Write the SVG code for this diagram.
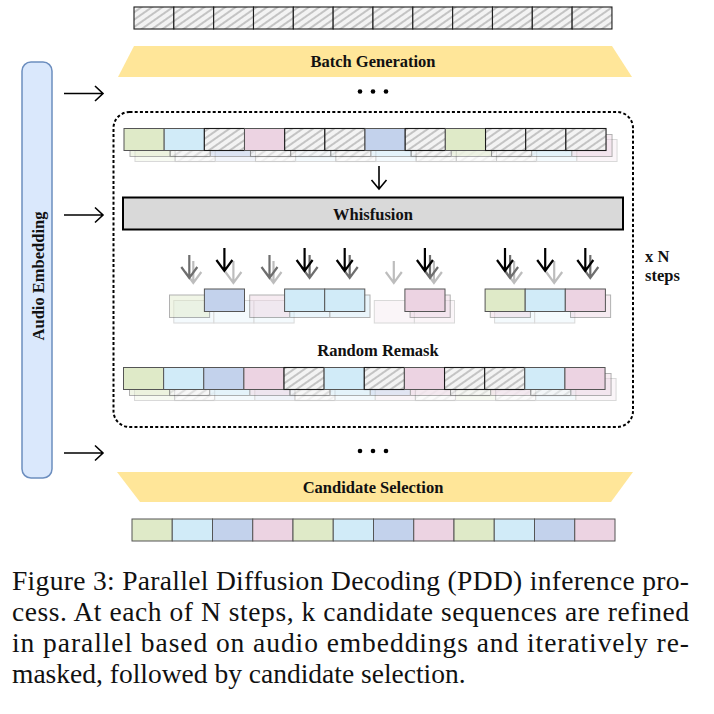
<svg xmlns="http://www.w3.org/2000/svg" width="714" height="714" viewBox="0 0 714 714">
<defs>
<pattern id="hatch" patternUnits="userSpaceOnUse" width="6" height="6" patternTransform="rotate(-35)">
<rect width="6" height="6" fill="#f3f3f3"/>
<line x1="0" y1="3" x2="6" y2="3" stroke="#7a7a7a" stroke-width="0.8"/>
</pattern>
</defs>
<style>
.c{stroke:#555;stroke-width:1}
.g{fill:#dfeac8}
.lb{fill:#d1ebf8}
.b{fill:#c3d2ec}
.p{fill:#ecd3e2}
.h{fill:url(#hatch);stroke:#1a1a1a;stroke-width:1.1}
.l1{opacity:0.45}
.l2{opacity:0.22}
.lbl{font-family:"Liberation Serif","Times New Roman",serif;font-weight:bold;font-size:16.5px;fill:#111}
.cap{font-family:"Liberation Serif","Times New Roman",serif;font-size:27.5px;fill:#111}
.arr{fill:none;stroke-width:2.2}
.thin{fill:none;stroke:#000;stroke-width:1.6}
</style>
<rect width="714" height="714" fill="#fff"/>

<!-- Top masked sequence -->
<g id="top-sequence">
<rect class="h" x="134" y="7" width="39.83" height="22"/>
<rect class="h" x="173.83" y="7" width="39.83" height="22"/>
<rect class="h" x="213.66" y="7" width="39.83" height="22"/>
<rect class="h" x="253.49" y="7" width="39.83" height="22"/>
<rect class="h" x="293.32" y="7" width="39.83" height="22"/>
<rect class="h" x="333.15" y="7" width="39.83" height="22"/>
<rect class="h" x="372.98" y="7" width="39.83" height="22"/>
<rect class="h" x="412.81" y="7" width="39.83" height="22"/>
<rect class="h" x="452.64" y="7" width="39.83" height="22"/>
<rect class="h" x="492.47" y="7" width="39.83" height="22"/>
<rect class="h" x="532.3" y="7" width="39.83" height="22"/>
<rect class="h" x="572.13" y="7" width="39.83" height="22"/>
</g>

<g id="batch-generation">
<polygon points="134,46 612,46 632,77 118,77" fill="#ffe699"/>
<text class="lbl" x="373" y="67" text-anchor="middle">Batch Generation</text>
</g>

<g id="dots-top" fill="#000">
<circle cx="360" cy="91.5" r="2.3"/>
<circle cx="373" cy="91.5" r="2.3"/>
<circle cx="386" cy="91.5" r="2.3"/>
</g>

<g id="audio-embedding">
<rect x="22" y="62" width="30" height="416" rx="9" fill="#dae8fc" stroke="#6c8ebf" stroke-width="1.5"/>
<text class="lbl" transform="translate(43.5,276) rotate(-90)" text-anchor="middle">Audio Embedding</text>
</g>

<g id="step-loop">
<rect x="113.5" y="112" width="519.5" height="315" rx="16" fill="none" stroke="#000" stroke-width="2" stroke-dasharray="3 2.2"/>
</g>

<!-- Row 1: k candidate sequences -->
<g id="candidates-in">
<g class="l2" transform="translate(11,11)">
<rect class="c g" x="124" y="128.5" width="40.17" height="22"/>
<rect class="h" x="164.17" y="128.5" width="40.17" height="22"/>
<rect class="c b" x="204.34" y="128.5" width="40.17" height="22"/>
<rect class="h" x="244.51" y="128.5" width="40.17" height="22"/>
<rect class="c lb" x="284.68" y="128.5" width="40.17" height="22"/>
<rect class="h" x="324.85" y="128.5" width="40.17" height="22"/>
<rect class="c lb" x="365.02" y="128.5" width="40.17" height="22"/>
<rect class="h" x="405.19" y="128.5" width="40.17" height="22"/>
<rect class="h" x="445.36" y="128.5" width="40.17" height="22"/>
<rect class="h" x="485.53" y="128.5" width="40.17" height="22"/>
<rect class="c lb" x="525.7" y="128.5" width="40.17" height="22"/>
<rect class="c p" x="565.87" y="128.5" width="40.17" height="22"/>
</g>
<g class="l1" transform="translate(6,6)">
<rect class="c g" x="124" y="128.5" width="40.17" height="22"/>
<rect class="h" x="164.17" y="128.5" width="40.17" height="22"/>
<rect class="c b" x="204.34" y="128.5" width="40.17" height="22"/>
<rect class="h" x="244.51" y="128.5" width="40.17" height="22"/>
<rect class="h" x="284.68" y="128.5" width="40.17" height="22"/>
<rect class="h" x="324.85" y="128.5" width="40.17" height="22"/>
<rect class="c lb" x="365.02" y="128.5" width="40.17" height="22"/>
<rect class="h" x="405.19" y="128.5" width="40.17" height="22"/>
<rect class="c g" x="445.36" y="128.5" width="40.17" height="22"/>
<rect class="h" x="485.53" y="128.5" width="40.17" height="22"/>
<rect class="c lb" x="525.7" y="128.5" width="40.17" height="22"/>
<rect class="c p" x="565.87" y="128.5" width="40.17" height="22"/>
</g>
<g>
<rect class="c g" x="124" y="128.5" width="40.17" height="22"/>
<rect class="c lb" x="164.17" y="128.5" width="40.17" height="22"/>
<rect class="h" x="204.34" y="128.5" width="40.17" height="22"/>
<rect class="c p" x="244.51" y="128.5" width="40.17" height="22"/>
<rect class="h" x="284.68" y="128.5" width="40.17" height="22"/>
<rect class="h" x="324.85" y="128.5" width="40.17" height="22"/>
<rect class="c b" x="365.02" y="128.5" width="40.17" height="22"/>
<rect class="h" x="405.19" y="128.5" width="40.17" height="22"/>
<rect class="c g" x="445.36" y="128.5" width="40.17" height="22"/>
<rect class="h" x="485.53" y="128.5" width="40.17" height="22"/>
<rect class="h" x="525.7" y="128.5" width="40.17" height="22"/>
<rect class="h" x="565.87" y="128.5" width="40.17" height="22"/>
</g>
</g>

<g id="whisfusion">
<rect x="123" y="197.5" width="500" height="32" fill="#d9d9d9" stroke="#000" stroke-width="2"/>
<text class="lbl" x="373" y="219.5" text-anchor="middle">Whisfusion</text>
</g>

<!-- Partially unmasked predictions -->
<g id="predictions">
<g class="l2">
<rect class="c lb" x="173.8" y="300.5" width="40.1" height="22.5"/>
<rect class="c lb" x="213.9" y="300.5" width="40.1" height="22.5"/>
<rect class="c lb" x="254" y="300.5" width="40.1" height="22.5"/>
<rect class="c p" x="374.3" y="300.5" width="40.1" height="22.5"/>
<rect class="c p" x="414.4" y="300.5" width="40.1" height="22.5"/>
<rect class="c lb" x="494.6" y="300.5" width="40.1" height="22.5"/>
<rect class="c lb" x="534.7" y="300.5" width="40.1" height="22.5"/>
</g>
<g class="l1">
<rect class="c g" x="169.5" y="295" width="40.1" height="22.5"/>
<rect class="c p" x="249.7" y="295" width="40.1" height="22.5"/>
<rect class="c lb" x="289.8" y="295" width="40.1" height="22.5"/>
<rect class="c lb" x="329.9" y="295" width="40.1" height="22.5"/>
<rect class="c p" x="410.1" y="295" width="40.1" height="22.5"/>
<rect class="c p" x="490.3" y="295" width="40.1" height="22.5"/>
<rect class="c p" x="570.5" y="295" width="40.1" height="22.5"/>
</g>
<g>
<rect class="c b" x="204.4" y="289" width="40.1" height="22.5"/>
<rect class="c lb" x="284.6" y="289" width="40.1" height="22.5"/>
<rect class="c lb" x="324.7" y="289" width="40.1" height="22.5"/>
<rect class="c p" x="404.9" y="289" width="40.1" height="22.5"/>
<rect class="c g" x="485.1" y="289" width="40.1" height="22.5"/>
<rect class="c lb" x="525.2" y="289" width="40.1" height="22.5"/>
<rect class="c p" x="565.3" y="289" width="40.1" height="22.5"/>
</g>
</g>

<g id="x-n-steps">
<text class="lbl" x="645" y="262">x N</text>
<text class="lbl" x="645" y="281">steps</text>
</g>

<g id="random-remask">
<text class="lbl" x="378" y="355.5" text-anchor="middle">Random Remask</text>
</g>

<!-- Row 2: remasked sequences -->
<g id="candidates-remasked">
<g class="l2" transform="translate(11,11)">
<rect class="c g" x="123.5" y="367.5" width="40.13" height="22"/>
<rect class="h" x="163.63" y="367.5" width="40.13" height="22"/>
<rect class="c lb" x="203.76" y="367.5" width="40.13" height="22"/>
<rect class="c b" x="243.89" y="367.5" width="40.13" height="22"/>
<rect class="h" x="284.02" y="367.5" width="40.13" height="22"/>
<rect class="c lb" x="324.15" y="367.5" width="40.13" height="22"/>
<rect class="c p" x="364.28" y="367.5" width="40.13" height="22"/>
<rect class="h" x="404.41" y="367.5" width="40.13" height="22"/>
<rect class="c g" x="444.54" y="367.5" width="40.13" height="22"/>
<rect class="h" x="484.67" y="367.5" width="40.13" height="22"/>
<rect class="c lb" x="524.8" y="367.5" width="40.13" height="22"/>
<rect class="c p" x="564.93" y="367.5" width="40.13" height="22"/>
</g>
<g class="l1" transform="translate(6,6)">
<rect class="c g" x="123.5" y="367.5" width="40.13" height="22"/>
<rect class="h" x="163.63" y="367.5" width="40.13" height="22"/>
<rect class="c lb" x="203.76" y="367.5" width="40.13" height="22"/>
<rect class="c p" x="243.89" y="367.5" width="40.13" height="22"/>
<rect class="h" x="284.02" y="367.5" width="40.13" height="22"/>
<rect class="c lb" x="324.15" y="367.5" width="40.13" height="22"/>
<rect class="c b" x="364.28" y="367.5" width="40.13" height="22"/>
<rect class="c p" x="404.41" y="367.5" width="40.13" height="22"/>
<rect class="h" x="444.54" y="367.5" width="40.13" height="22"/>
<rect class="c p" x="484.67" y="367.5" width="40.13" height="22"/>
<rect class="h" x="524.8" y="367.5" width="40.13" height="22"/>
<rect class="c p" x="564.93" y="367.5" width="40.13" height="22"/>
</g>
<g>
<rect class="c g" x="123.5" y="367.5" width="40.13" height="22"/>
<rect class="c lb" x="163.63" y="367.5" width="40.13" height="22"/>
<rect class="c b" x="203.76" y="367.5" width="40.13" height="22"/>
<rect class="c p" x="243.89" y="367.5" width="40.13" height="22"/>
<rect class="h" x="284.02" y="367.5" width="40.13" height="22"/>
<rect class="c lb" x="324.15" y="367.5" width="40.13" height="22"/>
<rect class="h" x="364.28" y="367.5" width="40.13" height="22"/>
<rect class="c p" x="404.41" y="367.5" width="40.13" height="22"/>
<rect class="h" x="444.54" y="367.5" width="40.13" height="22"/>
<rect class="h" x="484.67" y="367.5" width="40.13" height="22"/>
<rect class="c lb" x="524.8" y="367.5" width="40.13" height="22"/>
<rect class="c p" x="564.93" y="367.5" width="40.13" height="22"/>
</g>
</g>

<g id="dots-bottom" fill="#000">
<circle cx="360" cy="451" r="2.3"/>
<circle cx="373" cy="451" r="2.3"/>
<circle cx="386" cy="451" r="2.3"/>
</g>

<g id="candidate-selection">
<polygon points="117,472 633,472 611,502 140,502" fill="#ffe699"/>
<text class="lbl" x="373" y="493" text-anchor="middle">Candidate Selection</text>
</g>

<g id="output-sequence">
<rect class="c g" x="132" y="519" width="40.25" height="22"/>
<rect class="c lb" x="172.25" y="519" width="40.25" height="22"/>
<rect class="c b" x="212.5" y="519" width="40.25" height="22"/>
<rect class="c p" x="252.75" y="519" width="40.25" height="22"/>
<rect class="c g" x="293" y="519" width="40.25" height="22"/>
<rect class="c lb" x="333.25" y="519" width="40.25" height="22"/>
<rect class="c b" x="373.5" y="519" width="40.25" height="22"/>
<rect class="c p" x="413.75" y="519" width="40.25" height="22"/>
<rect class="c g" x="454" y="519" width="40.25" height="22"/>
<rect class="c lb" x="494.25" y="519" width="40.25" height="22"/>
<rect class="c b" x="534.5" y="519" width="40.25" height="22"/>
<rect class="c p" x="574.75" y="519" width="40.25" height="22"/>
</g>

<g id="connectors">
<path class="thin" d="M64 93.5H103M95 86L103 93.5L95 101"/>
<path class="thin" d="M64 215H103M95 207.5L103 215L95 222.5"/>
<path class="thin" d="M64 453H103M95 445.5L103 453L95 460.5"/>
<path class="thin" d="M379 166V189M371.5 180L379 189L386.5 180"/>
<g class="arr" stroke="#bdbdbd">
<path d="M193.3 261V283M185.3 272L193.3 283L201.3 272"/>
<path d="M233.4 261V283M225.4 272L233.4 283L241.4 272"/>
<path d="M273.5 261V283M265.5 272L273.5 283L281.5 272"/>
<path d="M393.8 261V283M385.8 272L393.8 283L401.8 272"/>
<path d="M433.9 261V283M425.9 272L433.9 283L441.9 272"/>
<path d="M514.1 261V283M506.1 272L514.1 283L522.1 272"/>
<path d="M554.2 261V283M546.2 272L554.2 283L562.2 272"/>
</g>
<g class="arr" stroke="#6e6e6e">
<path d="M189.3 255V278M181.3 267L189.3 278L197.3 267"/>
<path d="M269.5 255V278M261.5 267L269.5 278L277.5 267"/>
<path d="M309.6 255V278M301.6 267L309.6 278L317.6 267"/>
<path d="M349.7 255V278M341.7 267L349.7 278L357.7 267"/>
<path d="M430 255V278M422 267L430 278L438 267"/>
<path d="M510.1 255V278M502.1 267L510.1 278L518.1 267"/>
<path d="M590.3 255V278M582.3 267L590.3 278L598.3 267"/>
</g>
<g class="arr" stroke="#000">
<path d="M224.4 248V271M216.4 260L224.4 271L232.4 260"/>
<path d="M304.6 248V271M296.6 260L304.6 271L312.6 260"/>
<path d="M344.7 248V271M336.7 260L344.7 271L352.7 260"/>
<path d="M424.9 248V271M416.9 260L424.9 271L432.9 260"/>
<path d="M505 248V271M497 260L505 271L513 260"/>
<path d="M545.2 248V271M537.2 260L545.2 271L553.2 260"/>
<path d="M585.3 248V271M577.3 260L585.3 271L593.3 260"/>
</g>
</g>

<g id="caption">
<text class="cap" x="12" y="590" textLength="677" lengthAdjust="spacing">Figure 3: Parallel Diffusion Decoding (PDD) inference pro-</text>
<text class="cap" x="12" y="621" textLength="677" lengthAdjust="spacing">cess. At each of N steps, k candidate sequences are refined</text>
<text class="cap" x="12" y="652" textLength="677" lengthAdjust="spacing">in parallel based on audio embeddings and iteratively re-</text>
<text class="cap" x="12" y="683">masked, followed by candidate selection.</text>
</g>
</svg>
